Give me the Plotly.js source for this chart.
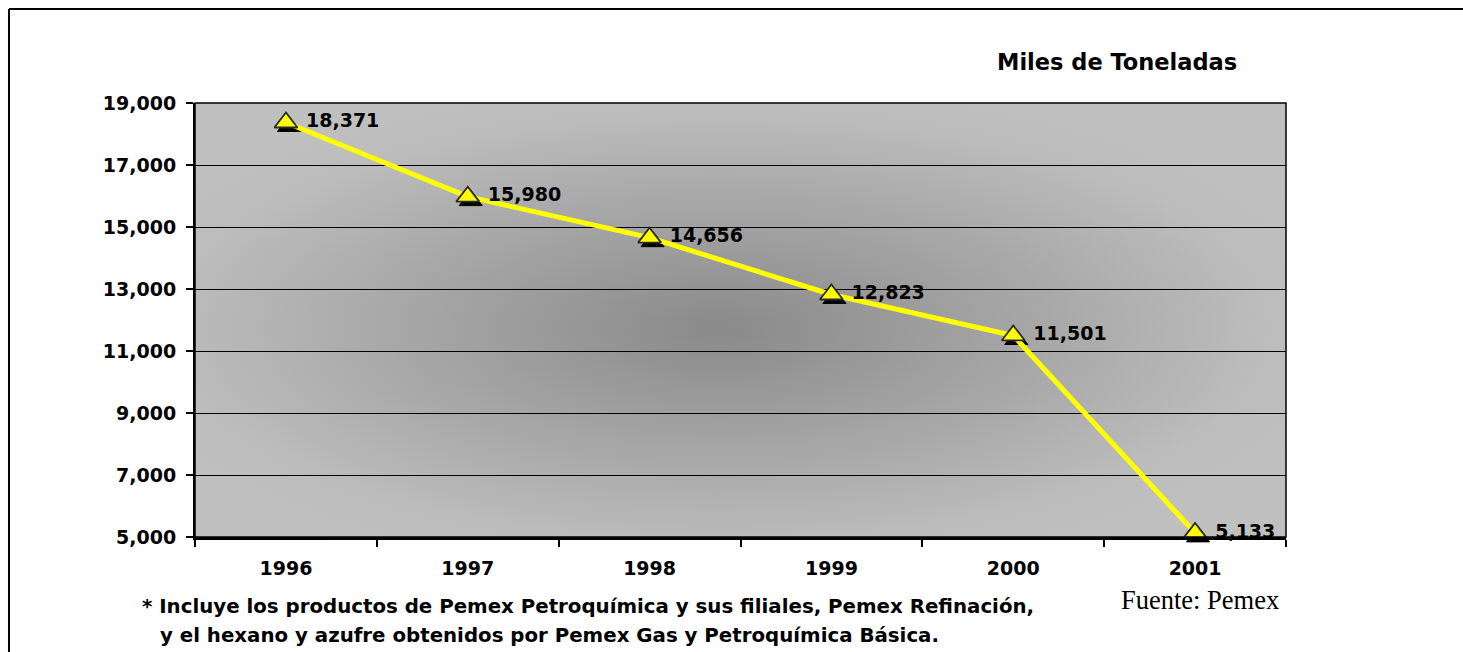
<!DOCTYPE html>
<html>
<head>
<meta charset="utf-8">
<script src="https://cdn.plot.ly/plotly-3.0.1.min.js"></script>
<style>
  html, body { margin: 0; padding: 0; background: #ffffff; overflow: hidden; }
  #chart { width: 1463px; height: 652px; }
</style>
</head>
<body>
<div id="chart"></div>
<script>
// ---- data ----
const years = ["1996", "1997", "1998", "1999", "2000", "2001"];
const tons = [18371, 15980, 14656, 12823, 11501, 5133];
const yTicks = [5000, 7000, 9000, 11000, 13000, 15000, 17000, 19000];
const unitLabel = "Miles de Toneladas";
const noteLine1 = "* Incluye los productos de Pemex Petroquímica y sus filiales, Pemex Refinación,";
const noteLine2 = "y el hexano y azufre obtenidos por Pemex Gas y Petroquímica Básica.";
const sourceLabel = "Fuente: Pemex";

const labels = tons.map(v => "\u00a0" + v.toLocaleString("en-US"));

// plot area geometry (px) used for the small drop-shadow offset of the markers
const plotW = 1091, plotH = 434;
const yMin = 5000, yMax = 19000;
const shadowDx = 3, shadowDy = 4;
const dyUnits = shadowDy * (yMax - yMin) / plotH;
const dxUnits = shadowDx * 6 / plotW;

const gradSvg = "<svg xmlns='http://www.w3.org/2000/svg' width='1091' height='434' viewBox='0 0 1091 434' preserveAspectRatio='none'>" +
  "<defs><radialGradient id='g' cx='0.48' cy='0.52' r='0.6'>" +
  "<stop offset='0' stop-color='#8a8a8a'/><stop offset='0.85' stop-color='#bdbdbd'/><stop offset='1' stop-color='#c0c0c0'/>" +
  "</radialGradient></defs><rect width='1091' height='434' fill='url(#g)'/></svg>";
const gradSrc = "data:image/svg+xml;charset=utf-8," + encodeURIComponent(gradSvg);

const tickFont = { family: "DejaVu Sans", size: 19, color: "#000000", weight: "bold" };

const shadow = {
  type: "scatter",
  mode: "markers",
  x: years,
  y: tons,
  xaxis: "x",
  yaxis: "y",
  cliponaxis: false,
  marker: { symbol: "triangle-up", size: 20, color: "#000000", line: { color: "#000000", width: 1 } },
  hoverinfo: "skip"
};

const trace = {
  type: "scatter",
  mode: "lines+markers+text",
  x: years,
  y: tons,
  xaxis: "x2",
  yaxis: "y2",
  text: labels,
  textposition: "middle right",
  textfont: { family: "DejaVu Sans", size: 19, color: "#000000", weight: "bold" },
  cliponaxis: false,
  line: { color: "#ffff00", width: 5 },
  marker: { symbol: "triangle-up", size: 20, color: "#ffff00", line: { color: "#2a2a2a", width: 1.8 } },
  hoverinfo: "skip"
};

const layout = {
  width: 1463,
  height: 652,
  margin: { l: 195, r: 177, t: 103, b: 115 },
  paper_bgcolor: "#ffffff",
  plot_bgcolor: "#c0c0c0",
  showlegend: false,
  xaxis: {
    type: "category",
    range: [-0.5 - dxUnits, 5.5 - dxUnits],
    visible: false,
    fixedrange: true
  },
  yaxis: {
    range: [yMin + dyUnits, yMax + dyUnits],
    visible: false,
    fixedrange: true
  },
  xaxis2: {
    type: "category",
    overlaying: "x",
    anchor: "y2",
    side: "bottom",
    range: [-0.5, 5.5],
    tickson: "boundaries",
    ticks: "outside",
    ticklen: 7,
    tickwidth: 2,
    tickcolor: "#000000",
    showline: true,
    linecolor: "#000000",
    linewidth: 3,
    showgrid: false,
    zeroline: false,
    tickfont: tickFont,
    ticklabelstandoff: 12,
    fixedrange: true
  },
  yaxis2: {
    overlaying: "y",
    anchor: "x2",
    side: "left",
    range: [yMin, yMax],
    tickvals: yTicks,
    tickformat: ",d",
    ticks: "outside",
    ticklen: 7,
    tickwidth: 2,
    tickcolor: "#000000",
    showline: true,
    linecolor: "#000000",
    linewidth: 2,
    showgrid: true,
    gridcolor: "#000000",
    gridwidth: 1,
    zeroline: false,
    tickfont: tickFont,
    ticklabelstandoff: 6,
    fixedrange: true
  },
  images: [{
    source: gradSrc,
    xref: "paper", yref: "paper",
    x: 0, y: 1, sizex: 1, sizey: 1,
    xanchor: "left", yanchor: "top",
    sizing: "stretch",
    layer: "below"
  }],
  shapes: [
    { type: "rect", xref: "paper", yref: "paper", x0: 0, x1: 1, y0: 0, y1: 1,
      line: { color: "#000000", width: 1.5 }, fillcolor: "rgba(0,0,0,0)", layer: "above" },
    { type: "line", xref: "paper", yref: "paper", x0: -0.1705, x1: 1.1622, y0: 1.2166, y1: 1.2166,
      line: { color: "#000000", width: 2 }, layer: "below" },
    { type: "line", xref: "paper", yref: "paper", x0: -0.1705, x1: -0.1705, y0: -0.3, y1: 1.2166,
      line: { color: "#000000", width: 2 }, layer: "below" }
  ],
  annotations: [
    { text: unitLabel, xref: "paper", yref: "paper", x: 0.957, y: 1.0945,
      xanchor: "right", yanchor: "middle", showarrow: false,
      font: { family: "DejaVu Sans", size: 22.5, color: "#000000", weight: "bold" } },
    { text: noteLine1, xref: "paper", yref: "paper", x: -0.0504, y: -0.159,
      xanchor: "left", yanchor: "middle", showarrow: false,
      font: { family: "DejaVu Sans", size: 19.8, color: "#000000", weight: "bold" } },
    { text: noteLine2, xref: "paper", yref: "paper", x: -0.0339, y: -0.228,
      xanchor: "left", yanchor: "middle", showarrow: false,
      font: { family: "DejaVu Sans", size: 19.8, color: "#000000", weight: "bold" } },
    { text: sourceLabel, xref: "paper", yref: "paper", x: 0.847, y: -0.145,
      xanchor: "left", yanchor: "middle", showarrow: false,
      font: { family: "Liberation Serif", size: 26.5, color: "#000000" } }
  ]
};

Plotly.newPlot("chart", [shadow, trace], layout, { displayModeBar: false, staticPlot: true });
</script>
</body>
</html>
